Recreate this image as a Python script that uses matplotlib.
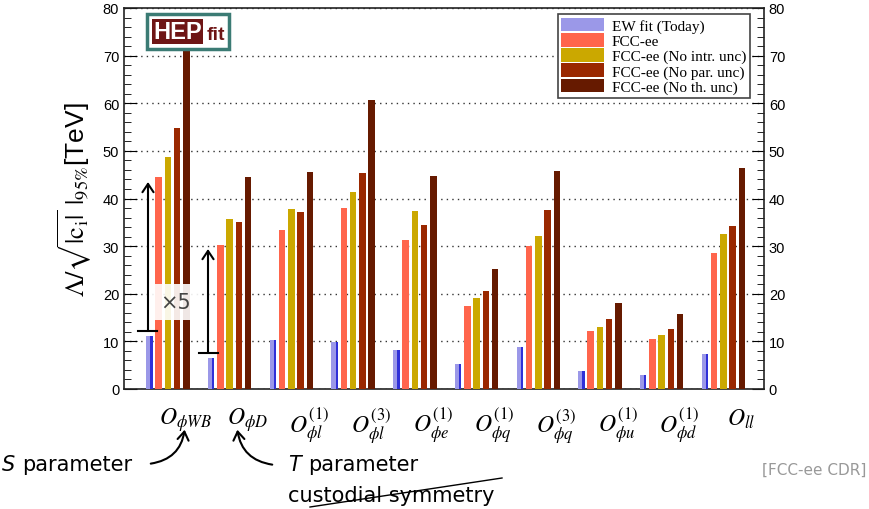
import numpy as np
import matplotlib
matplotlib.use('Agg')
import matplotlib.pyplot as plt
from matplotlib.patches import Rectangle, FancyArrowPatch
from matplotlib.lines import Line2D

# operator labels
labels = [r'$O_{\phi WB}$', r'$O_{\phi D}$', r'$O^{(1)}_{\phi l}$', r'$O^{(3)}_{\phi l}$',
          r'$O^{(1)}_{\phi e}$', r'$O^{(1)}_{\phi q}$', r'$O^{(3)}_{\phi q}$',
          r'$O^{(1)}_{\phi u}$', r'$O^{(1)}_{\phi d}$', r'$O_{ll}$']

# bounds in TeV
ew_today = [11.1, 6.5, 10.3, 9.8, 8.1, 5.2, 8.8, 3.7, 2.9, 7.4]
fcc = [44.6, 30.3, 33.3, 38.1, 31.3, 17.5, 30.0, 12.2, 10.4, 28.6]
fcc_no_intr = [48.8, 35.6, 37.9, 41.4, 37.3, 19.2, 32.1, 13.1, 11.4, 32.5]
fcc_no_par = [54.7, 35.0, 37.2, 45.4, 34.5, 20.6, 37.5, 14.8, 12.7, 34.2]
fcc_no_th = [71.5, 44.5, 45.6, 60.6, 44.7, 25.1, 45.7, 18.1, 15.8, 46.4]

series = [ew_today, fcc, fcc_no_intr, fcc_no_par, fcc_no_th]
names = ['EW fit (Today)', 'FCC-ee', 'FCC-ee (No intr. unc)', 'FCC-ee (No par. unc)', 'FCC-ee (No th. unc)']
colors = ['#9b98e8', '#ff654c', '#cba800', '#9a2800', '#661a00']

plt.rcParams['mathtext.fontset'] = 'stix'

fig = plt.figure(figsize=(8.69, 5.10), dpi=100)
ax = fig.add_axes([124/869, 1-390/510, 640/869, 381/510])

W, H = 869, 510
def fx(px):
    return px / W
def fy(py):
    return 1 - py / H

x = np.arange(10) + 0.36
step = 0.15
bw = 0.105
for k, (vals, c) in enumerate(zip(series, colors)):
    xs = x + k*step
    ax.bar(xs, vals, width=bw, align='edge', color=c, edgecolor='none', zorder=3, label=names[k])
    if k == 0:
        # blue right edge of the EW bars
        ax.bar(xs + bw*0.65, vals, width=bw*0.35, align='edge', color='#3030d8', edgecolor='none', zorder=3)

ax.set_xlim(0, 10.37)
ax.set_ylim(0, 80)
ax.set_xticks([])
ax.set_yticks(np.arange(0, 81, 10))
ax.set_yticks(np.arange(0, 81, 2), minor=True)
ax.tick_params(axis='y', which='both', direction='in', left=True, right=True,
               labelleft=True, labelright=True, labelsize=10.5)
ax.tick_params(axis='y', which='major', length=9)
ax.tick_params(axis='y', which='minor', length=5)
for t in ax.get_yticklabels():
    t.set_fontfamily('Liberation Sans')
ax.yaxis.grid(True, linestyle=(0, (1, 3)), color='#333333', linewidth=1, zorder=1)
for s in ax.spines.values():
    s.set_linewidth(1.2)
    s.set_color('#222222')

ax.set_ylabel(r'$\Lambda/\sqrt{|\mathrm{c_i}|}\ |_{95\%}$[TeV]', fontsize=19,
              family='Liberation Sans', labelpad=6)

for i, lab in enumerate(labels):
    ax.text(x[i] + 0.64, -3.5, lab, ha='center', va='top', fontsize=17)

leg = ax.legend(loc='upper right', bbox_to_anchor=((750 - 124)/640, 1 - 6/381), bbox_transform=ax.transAxes,
                prop={'family': 'Liberation Serif', 'size': 11}, frameon=True, fancybox=False,
                handlelength=2.8, handleheight=1.0, labelspacing=0.0, borderpad=0.25, handletextpad=0.5,
                borderaxespad=0)
leg.get_frame().set_edgecolor('#444444')
leg.get_frame().set_linewidth(1.2)
leg.get_frame().set_alpha(1)
leg.set_zorder(10)

# HEPfit logo
logo = Rectangle((fx(147), fy(50)), fx(229) - fx(147), fy(15) - fy(50), transform=fig.transFigure,
                 facecolor='white', edgecolor='#3b7b74', linewidth=2.5, zorder=20)
fig.add_artist(logo)
inner = Rectangle((fx(152), fy(45)), fx(203) - fx(152), fy(20) - fy(45), transform=fig.transFigure,
                  facecolor='#6e1515', edgecolor='none', zorder=21)
fig.add_artist(inner)
fig.text(fx(177.5), fy(32.5), 'HEP', color='white', fontsize=17, fontweight='bold',
         family='Liberation Sans', ha='center', va='center', zorder=22)
fig.text(fx(216), fy(36), 'fit', color='#6e1515', fontsize=14, fontweight='bold',
         family='Liberation Sans', ha='center', va='center', zorder=22)

# x5 arrows
arrows = [(148, 332, 183, 138, 157), (208, 354, 250, 199, 218)]
for ax_x, y0, y1, c0, c1 in arrows:
    fig.add_artist(FancyArrowPatch((fx(ax_x), fy(y0)), (fx(ax_x), fy(y1)), transform=fig.transFigure,
                                   arrowstyle='->,head_length=6,head_width=4', color='black', lw=1.5,
                                   shrinkA=0, shrinkB=0, zorder=15))
    fig.add_artist(Line2D([fx(c0), fx(c1)], [fy(y0), fy(y0)], transform=fig.transFigure,
                          color='black', lw=1.5, zorder=15))
fig.text(fx(176), fy(303), '\u00d75', fontsize=15, color='#444444', ha='center', va='center',
         family='DejaVu Sans', zorder=16,
         bbox=dict(facecolor='white', edgecolor='none', alpha=0.9, pad=6))

# annotations below the plot
fig.text(fx(2), fy(465), 'S', fontsize=15, style='italic', ha='left', va='center', family='DejaVu Sans')
fig.text(fx(22), fy(465), 'parameter', fontsize=15, ha='left', va='center', family='DejaVu Sans')
fig.add_artist(FancyArrowPatch((fx(148), fy(465)), (fx(185), fy(428)), transform=fig.transFigure,
                               connectionstyle='arc3,rad=0.4', arrowstyle='->,head_length=6,head_width=4',
                               color='black', lw=1.5))
fig.text(fx(288), fy(465), 'T', fontsize=15, style='italic', ha='left', va='center', family='DejaVu Sans')
fig.text(fx(308), fy(465), 'parameter', fontsize=15, ha='left', va='center', family='DejaVu Sans')
fig.add_artist(FancyArrowPatch((fx(275), fy(466)), (fx(237), fy(428)), transform=fig.transFigure,
                               connectionstyle='arc3,rad=-0.4', arrowstyle='->,head_length=6,head_width=4',
                               color='black', lw=1.5))
fig.text(fx(288), fy(496), 'custodial symmetry', fontsize=15, ha='left', va='center',
         family='DejaVu Sans')
fig.add_artist(Line2D([fx(310), fx(502)], [fy(508), fy(479)], transform=fig.transFigure,
                      color='black', lw=1))
fig.text(fx(866), fy(470), '[FCC-ee CDR]', fontsize=11, color='#999999', ha='right', va='center',
         family='DejaVu Sans')

fig.savefig('out.png', dpi=100)
